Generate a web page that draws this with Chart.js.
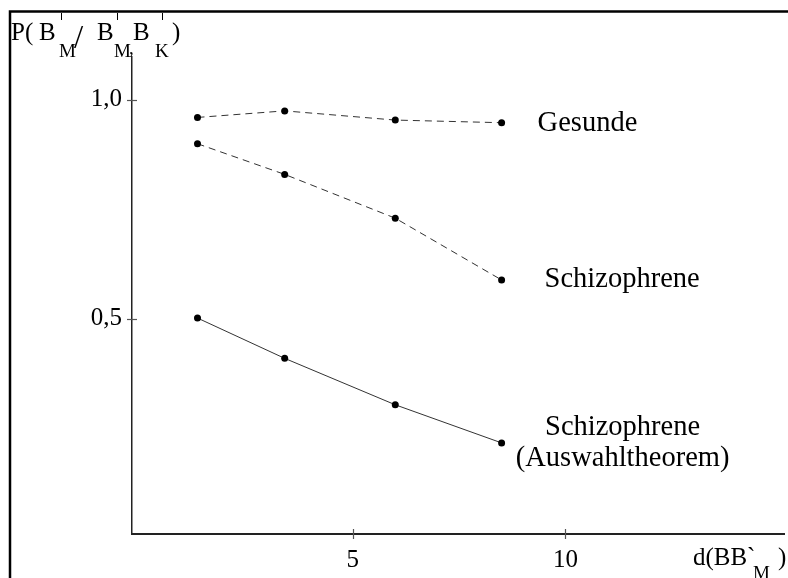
<!DOCTYPE html>
<html>
<head>
<meta charset="utf-8">
<script src="https://cdn.jsdelivr.net/npm/chart.js@4.4.0/dist/chart.umd.min.js"></script>
<style>
    html, body { margin: 0; padding: 0; background: #fff; }
    #wrap { width: 788px; height: 578px; }
</style>
</head>
<body>
<div id="wrap"><canvas id="myChart"></canvas></div>
<script>
// distance d(BB'M) on the x-axis, probability on the y-axis
const distances = [1.35, 3.4, 6.0, 8.5];
const gesunde = [0.96, 0.975, 0.954, 0.948];
const schizophrene = [0.90, 0.83, 0.73, 0.589];
const schizoAuswahl = [0.502, 0.41, 0.304, 0.217];
const seriesNames = [['Gesunde'], ['Schizophrene'], ['Schizophrene', '(Auswahltheorem)']];
const xTicks = [5, 10];
const yTicks = [0.5, 1.0];

const serif = '"Liberation Serif", "DejaVu Serif", serif';

function toPoints(ys){
    return distances.map((d, i) => ({x: d, y: ys[i]}));
}

// frame, crossing tick marks, curve names and axis titles
const paperPlugin = {
    id: 'paper',
    beforeDraw(chart){
        const c = chart.ctx;
        c.save();
        c.fillStyle = '#fff';
        c.fillRect(0, 0, chart.width, chart.height);
        c.strokeStyle = '#000';
        c.lineWidth = 2.5;
        c.beginPath();
        c.moveTo(10, chart.height);
        c.lineTo(10, 11.5);
        c.lineTo(chart.width, 11.5);
        c.stroke();
        c.restore();
    },
    afterDraw(chart){
        const c = chart.ctx;
        const xs = chart.scales.x, ys = chart.scales.y;
        c.save();

        // tick marks go through the axis
        c.strokeStyle = '#555';
        c.lineWidth = 1.2;
        xs.ticks.forEach(t => {
            const px = Math.round(xs.getPixelForValue(t.value)) + 0.5;
            c.beginPath(); c.moveTo(px, xs.top - 5); c.lineTo(px, xs.top + 5); c.stroke();
        });
        ys.ticks.forEach(t => {
            const py = Math.round(ys.getPixelForValue(t.value)) + 0.5;
            c.beginPath(); c.moveTo(ys.right - 5, py); c.lineTo(ys.right + 5, py); c.stroke();
        });

        // curve names next to the last point
        c.fillStyle = '#000';
        c.font = '28.5px ' + serif;
        c.textBaseline = 'middle';
        const place = [
            {dx: 36, dy: 1, align: 'left'},
            {dx: 43, dy: 0, align: 'left'},
            {dx: 121, dy: -15, align: 'center'}
        ];
        seriesNames.forEach((lines, i) => {
            const meta = chart.getDatasetMeta(i);
            const last = meta.data[meta.data.length - 1];
            c.textAlign = place[i].align;
            lines.forEach((txt, k) => {
                c.fillText(txt, last.x + place[i].dx, last.y + place[i].dy + k * 31);
            });
        });

        // axis titles with sub- and superscripts
        c.textAlign = 'left';
        c.textBaseline = 'alphabetic';
        const big = '25px ' + serif, small = '19px ' + serif;
        const yTitle = [
            ['P(', 11, 40, big], ['B', 39, 40, big], ['M', 59, 57, small],
            ['/', 74, 48, '33px ' + serif], ['B', 97, 40, big], ['M', 114, 57, small],
            [',', 129, 54, small], ['B', 133, 40, big], ['K', 155, 57, small],
            [')', 172, 40, big]
        ];
        const xTitle = [
            ['d(BB', 693, 565, '25px ' + serif], ['`', 747, 565, '25px ' + serif],
            ['M', 753, 579, small], [')', 778, 565, '25px ' + serif]
        ];
        yTitle.concat(xTitle).forEach(p => {
            c.font = p[3];
            c.fillText(p[0], p[1], p[2]);
        });
        c.strokeStyle = '#000';
        c.lineWidth = 1;
        [61, 117, 162].forEach(px => {
            c.beginPath(); c.moveTo(px + 0.5, 13); c.lineTo(px + 0.5, 20); c.stroke();
        });
        c.restore();
    }
};

function lineSet(label, ys, dash){
    return {
        label: label,
        data: toPoints(ys),
        borderColor: '#333',
        borderWidth: 1,
        borderDash: dash,
        pointRadius: 3.5,
        pointBackgroundColor: '#000',
        pointBorderWidth: 0,
        tension: 0,
        fill: false
    };
}

function createChart(){
    const ctx = document.getElementById('myChart');
    new Chart(ctx, {
        type: 'line',
        data: {
            datasets: [
                lineSet('Gesunde', gesunde, [7, 5]),
                lineSet('Schizophrene', schizophrene, [7, 5]),
                lineSet('Schizophrene (Auswahltheorem)', schizoAuswahl, [])
            ]
        },
        options: {
            responsive: true,
            maintainAspectRatio: false,
            animation: false,
            layout: { padding: { top: 57, left: 0, right: 0, bottom: 0 } },
            plugins: {
                legend: { display: false },
                tooltip: { enabled: false }
            },
            scales: {
                x: {
                    type: 'linear',
                    min: -0.19,
                    max: 15.14,
                    afterBuildTicks: s => { s.ticks = xTicks.map(v => ({value: v})); },
                    afterFit: s => { s.height = 44; },
                    grid: { display: false, drawTicks: false },
                    border: { color: '#222', width: 2 },
                    ticks: {
                        font: { family: serif, size: 25 },
                        color: '#000',
                        padding: 11,
                        maxRotation: 0
                    }
                },
                y: {
                    type: 'linear',
                    min: 0.009,
                    max: 1.098,
                    afterBuildTicks: s => { s.ticks = yTicks.map(v => ({value: v})); },
                    afterFit: s => { s.width = 132; },
                    grid: { display: false, drawTicks: false },
                    border: { color: '#222', width: 1.5 },
                    ticks: {
                        callback: v => v.toFixed(1).replace('.', ','),
                        font: { family: serif, size: 25 },
                        color: '#000',
                        padding: 10
                    }
                }
            }
        },
        plugins: [paperPlugin]
    });
}

createChart();
</script>
</body>
</html>
